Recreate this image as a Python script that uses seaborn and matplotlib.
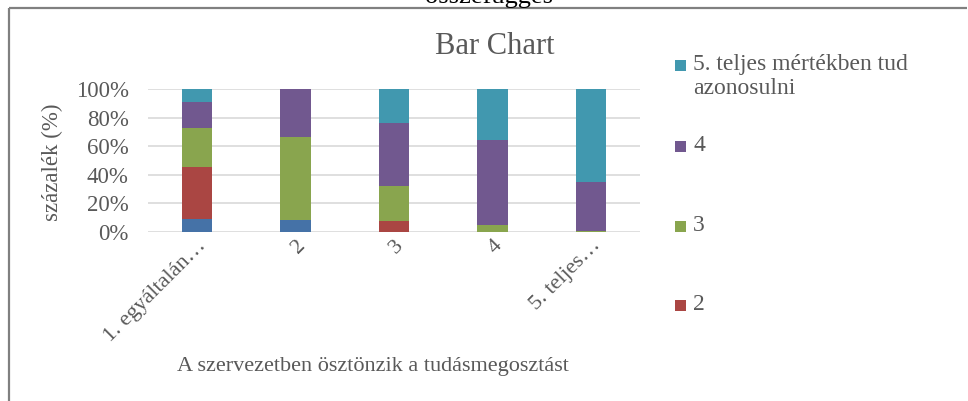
import matplotlib
matplotlib.use("Agg")
import matplotlib.pyplot as plt
from matplotlib.lines import Line2D
import matplotlib.patches as mpatches
import seaborn as sns
import numpy as np
import pandas as pd

# ---- data ----
categories = ["1. egyáltalán…", "2", "3", "4", "5. teljes…"]
series_names = ["1. egyáltalán nem tud azonosulni", "2", "3", "4", "5. teljes mértékben tud\nazonosulni"]
s1 = [9.1, 8.3, 0.0, 0.0, 0.0]
s2 = [36.4, 0.0, 8.0, 0.0, 0.0]
s3 = [27.3, 58.3, 24.0, 4.7, 0.9]
s4 = [18.2, 33.4, 44.0, 59.3, 34.4]
s5 = [9.0, 0.0, 24.0, 36.0, 64.7]
colors = ["#4572A7", "#AA4643", "#89A54E", "#71588F", "#4198AF"]

title = "Bar Chart"
xlabel = "A szervezetben ösztönzik a tudásmegosztást"
ylabel = "százalék (%)"
top_text = "összefüggés"
yticks = [0, 20, 40, 60, 80, 100]
ytick_labels = ["0%", "20%", "40%", "60%", "80%", "100%"]

# ---- style ----
sns.set_theme(style="white")
plt.rcParams["font.family"] = ["Liberation Serif", "DejaVu Serif"]
txt = "#595959"

W, H = 968, 401
fig = plt.figure(figsize=(W / 100, H / 100), dpi=100)
fig.patch.set_edgecolor("none")
fig.patch.set_linewidth(0)
ax = fig.add_axes([148 / W, 1 - 232 / H, (640 - 148) / W, (232 - 89) / H])

series = [s1, s2, s3, s4, s5]
cum = np.cumsum(np.array(series), axis=0)
df = pd.DataFrame({"cat": categories})
# draw cumulative totals from the top down so each segment shows
for i in range(len(series) - 1, -1, -1):
    df["val"] = cum[i]
    sns.barplot(data=df, x="cat", y="val", color=colors[i], width=0.31,
                saturation=1, ax=ax, zorder=3, edgecolor="none", linewidth=0)

ax.set_ylim(0, 100)
ax.set_xlim(-0.5, len(categories) - 0.5)
ax.set_yticks(yticks)
ax.set_yticklabels(ytick_labels)
ax.grid(axis="y", color="#D9D9D9", linewidth=1.2, zorder=0)
ax.grid(axis="x", visible=False)
for sp in ax.spines.values():
    sp.set_visible(False)
ax.tick_params(axis="both", length=0, colors=txt, labelsize=16.5)
ax.tick_params(axis="y", pad=14)
ax.set_xlabel("")
ax.set_ylabel("")
for lab in ax.get_xticklabels():
    lab.set_rotation(45)
    lab.set_ha("right")
    lab.set_va("top")
    lab.set_rotation_mode("anchor")
    lab.set_color(txt)
    lab.set_fontsize(16)
ax.tick_params(axis="x", pad=3)

fig.text(52 / W, 1 - 162 / H, ylabel, rotation=90, ha="center", va="center",
         color=txt, fontsize=16.5)
fig.text(373 / W, 1 - 367 / H, xlabel, ha="center", va="center",
         color=txt, fontsize=16)
fig.text(495 / W, 1 - 46 / H, title, ha="center", va="center",
         color=txt, fontsize=22)

# outer frame: only the left and top edges are inside the image
fx, fy = 9 / W, 1 - 8 / H
fig.add_artist(Line2D([fx, fx], [0, fy], transform=fig.transFigure,
                      color="#808080", linewidth=1.6, solid_capstyle="butt", zorder=1))
fig.add_artist(Line2D([fx, 0.999], [fy, fy], transform=fig.transFigure,
                      color="#808080", linewidth=1.6, solid_capstyle="butt", zorder=1))
fig.text(489 / W, 1 - 3 / H, top_text, ha="center", va="baseline",
         color="black", fontsize=19, zorder=5)

# legend (reverse order, last entry cut off as in the original)
leg_y = [65, 146, 226, 305]
for k, idx in enumerate([4, 3, 2, 1]):
    y = leg_y[k]
    fig.patches.append(mpatches.Rectangle((675 / W, 1 - (y + 6) / H), 11 / W, 11 / H,
                                          transform=fig.transFigure,
                                          facecolor=colors[idx], edgecolor="none"))
    fig.text(693 / W, 1 - (y - 11) / H, series_names[idx], ha="left", va="top",
             color=txt, fontsize=17, linespacing=1.2)

fig.savefig("out.png", dpi=100, edgecolor="none")
